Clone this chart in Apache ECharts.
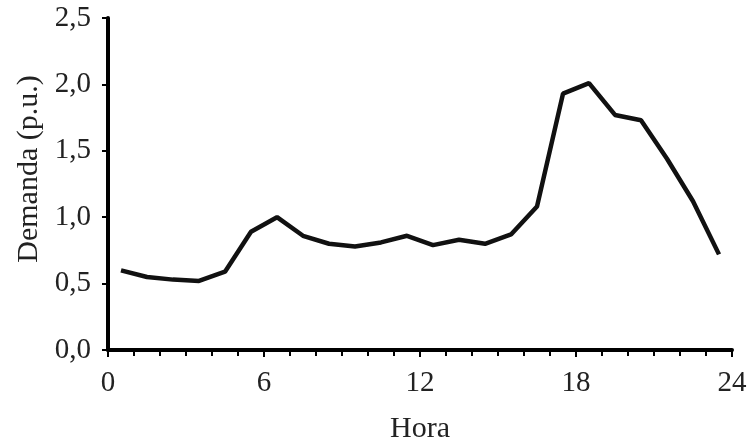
<!DOCTYPE html>
<html><head><meta charset="utf-8">
<script src="https://cdn.jsdelivr.net/npm/echarts@6/dist/echarts.min.js"></script>
<style>html,body{margin:0;padding:0;background:#fff}#c{width:751px;height:441px}</style>
</head><body><div id="c"></div>
<script>
const hours = [0.5,1.5,2.5,3.5,4.5,5.5,6.5,7.5,8.5,9.5,10.5,11.5,12.5,13.5,14.5,15.5,16.5,17.5,18.5,19.5,20.5,21.5,22.5,23.5];
const demanda = [0.60,0.55,0.53,0.52,0.59,0.89,1.00,0.86,0.80,0.78,0.81,0.86,0.79,0.83,0.80,0.87,1.08,1.93,2.01,1.77,1.73,1.44,1.12,0.72];
const xTitle = 'Hora';
const yTitle = 'Demanda (p.u.)';
const fmt = v => v.toFixed(1).replace('.', ',');
const font = '"Liberation Serif", "Times New Roman", serif';
const chart = echarts.init(document.getElementById('c'));
chart.setOption({
  animation: false,
  grid: {left: 108, right: 19, top: 18, bottom: 91, containLabel: false, outerBoundsMode: 'none'},
  xAxis: {
    type: 'value', min: 0, max: 24, interval: 6,
    name: xTitle, nameLocation: 'middle', nameGap: 64,
    nameTextStyle: {fontFamily: font, fontSize: 30, color: '#222'},
    axisLine: {show: true, onZero: false, lineStyle: {color: '#000', width: 4}},
    axisTick: {show: true, inside: false, length: 7, lineStyle: {color: '#000', width: 2}},
    minorTick: {show: true, splitNumber: 6, length: 6, lineStyle: {color: '#000', width: 2}},
    axisLabel: {fontFamily: font, fontSize: 29, color: '#222', margin: 19},
    splitLine: {show: false},
    minorSplitLine: {show: false}
  },
  yAxis: {
    type: 'value', min: 0, max: 2.5, interval: 0.5,
    name: yTitle, nameLocation: 'middle', nameGap: 63, nameRotate: 90,
    nameTextStyle: {fontFamily: font, fontSize: 30, color: '#222', padding: [0, 0, 0, 30]},
    axisLine: {show: true, onZero: false, lineStyle: {color: '#000', width: 4}},
    axisTick: {show: true, inside: false, length: 6, lineStyle: {color: '#000', width: 2}},
    axisLabel: {fontFamily: font, fontSize: 29, color: '#222', margin: 17, formatter: fmt},
    splitLine: {show: false}
  },
  series: [{
    type: 'line',
    data: hours.map((h, i) => [h, demanda[i]]),
    showSymbol: false,
    lineStyle: {color: '#111', width: 4.5},
    z: 3
  }]
});
</script></body></html>
